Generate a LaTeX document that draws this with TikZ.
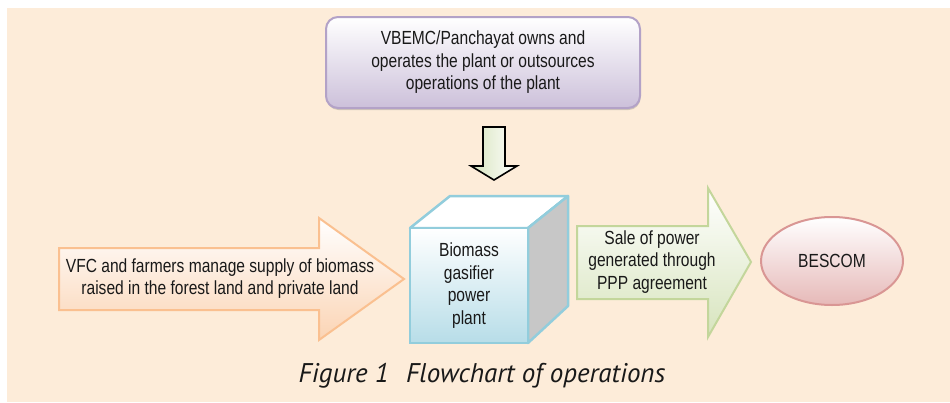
\documentclass[tikz,border=0pt]{standalone}
\usepackage{fontspec}
\setmainfont{Liberation Sans}[FakeStretch=0.82]
\newfontfamily\capfont{PT Sans}
\usetikzlibrary{shapes.geometric,shadows}
\definecolor{bgpeach}{RGB}{253,236,217}
\definecolor{lavline}{RGB}{179,162,199}
\definecolor{lavfill}{RGB}{204,192,218}
\definecolor{cubeline}{RGB}{146,205,220}
\definecolor{cubefill}{RGB}{183,221,232}
\definecolor{peachline}{RGB}{250,192,144}
\definecolor{peachfill}{RGB}{251,212,180}
\definecolor{greenline}{RGB}{195,214,155}
\definecolor{greenfill}{RGB}{215,228,189}
\definecolor{roseline}{RGB}{217,150,148}
\definecolor{rosefill}{RGB}{230,185,184}
\tikzset{
  flowtext/.style={font=\fontsize{19}{22.5}\selectfont,align=center,text=black!90,inner sep=0pt},
  ownbox/.style={flowtext,draw=lavline,line width=2pt,rounded corners=12pt,top color=white,bottom color=lavfill,
    minimum width=314pt,minimum height=91pt,drop shadow={shadow xshift=0.5pt,shadow yshift=-2pt,opacity=.35}},
  plantface/.style={flowtext,draw=cubeline,line width=2.5pt,top color=white,bottom color=cubefill,
    minimum width=118pt,minimum height=115pt},
  bescomnode/.style={flowtext,ellipse,draw=roseline,line width=2pt,top color=white,bottom color=rosefill,
    minimum width=142pt,minimum height=88pt},
  blockarrow/.style={line width=2pt,line join=miter}
}
\begin{document}
\begin{tikzpicture}[x=1pt,y=-1pt]
\useasboundingbox (0,0) rectangle (950,402);
\fill[bgpeach] (7,8) rectangle (950,402);

% owner of the plant
\node[ownbox] (vbemc) at (483,62.5) {VBEMC/Panchayat owns and\\operates the plant or outsources\\operations of the plant};
\draw[line width=1.6pt,left color=greenfill,right color=white,line join=miter]
  (483,127) -- (505,127) -- (505,166) -- (517,166) -- (494,180) -- (471,166) -- (483,166) -- cycle;

% the plant as a box
\fill[white,draw=cubeline,line width=2.5pt,line join=round] (410,228) -- (450,196) -- (568,196) -- (528,228) -- cycle;
\fill[black!22,draw=cubeline,line width=2.5pt,line join=round] (528,228) -- (568,196) -- (568,306) -- (528,343) -- cycle;
\node[plantface] (plant) at (469,285.5) {Biomass\\gasifier\\power\\plant};

% supply of biomass
\draw[blockarrow,draw=peachline,top color=white,bottom color=peachfill]
  (59,248) -- (319,248) -- (319,218) -- (404,279) -- (319,340) -- (319,310) -- (59,310) -- cycle;
\node[flowtext] (vfc) at (220,278.5) {VFC and farmers manage supply of biomass\\raised in the forest land and private land};

% sale of power
\draw[blockarrow,draw=greenline,top color=white,bottom color=greenfill]
  (577,226) -- (708,226) -- (708,188) -- (751,262) -- (708,337) -- (708,299) -- (577,299) -- cycle;
\node[flowtext] (sale) at (652,262) {Sale of power\\generated through\\PPP agreement};

\node[bescomnode] (bescom) at (832,261) {BESCOM};

\node[font=\capfont\itshape\fontsize{27}{30}\selectfont,text=black!90,anchor=base] (cap) at (482,382) {Figure 1\hspace{10pt} Flowchart of operations};
\end{tikzpicture}
\end{document}
